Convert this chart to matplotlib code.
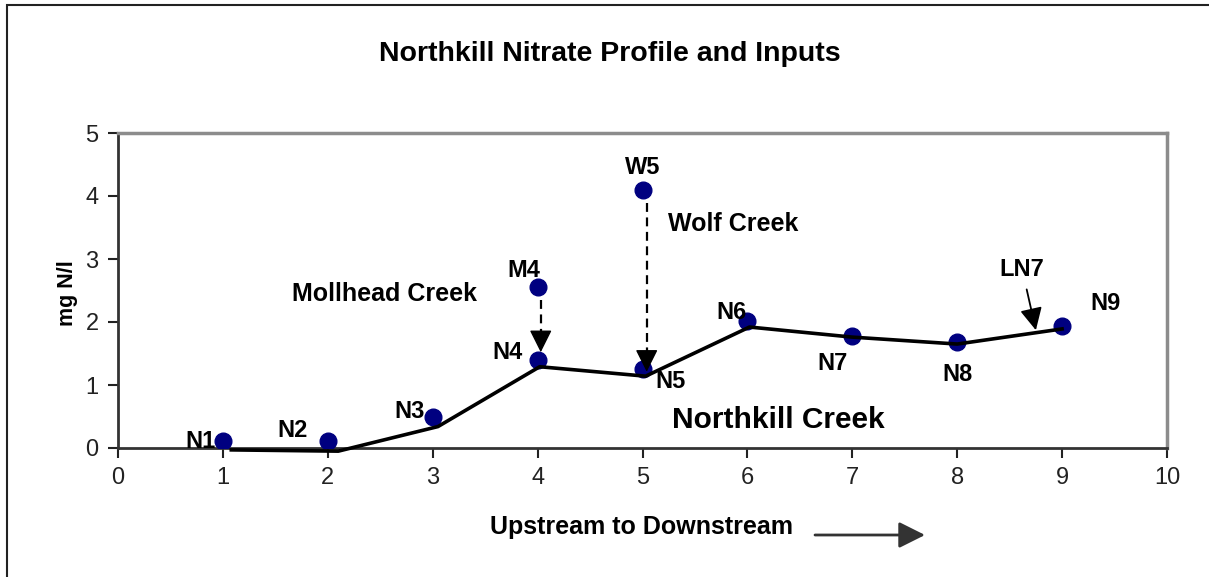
import matplotlib.pyplot as plt
from matplotlib.patches import Rectangle

plt.rcParams['font.family'] = ['Liberation Sans', 'DejaVu Sans']

# sampling sites along Northkill Creek
site_x = [1, 2, 3, 4, 5, 6, 7, 8, 9]
site_names = ["N1", "N2", "N3", "N4", "N5", "N6", "N7", "N8", "N9"]
site_no3 = [0.11, 0.11, 0.49, 1.40, 1.25, 2.02, 1.78, 1.68, 1.94]

# tributary inputs
trib_names = ["M4", "W5"]
trib_x = [4, 5]
trib_no3 = [2.56, 4.10]

# profile line
prof_x = [1.08, 2.1, 3.05, 4.02, 5.03, 6.02, 7.0, 8.0, 9.0]
prof_y = [-0.03, -0.05, 0.34, 1.29, 1.14, 1.92, 1.76, 1.65, 1.89]

# label offsets (pixels) for each site / tributary
site_off = [(-22, 0), (-35, 11), (-23, 6), (-30, 7), (28, -12), (-16, 8), (-20, -28), (0, -32), (43, 22)]
trib_off = [(-14, 16), (0, 22)]

fig = plt.figure(figsize=(12.09, 5.77), dpi=100)
fig.patches.append(Rectangle((7 / 1209, -0.1), 1.2, 1 - 5 / 577 + 0.1, transform=fig.transFigure,
                             fill=False, edgecolor='#222222', lw=1.5))
ax = fig.add_axes([118 / 1209, 129 / 577, 1049 / 1209, 315 / 577])

ax.plot(site_x, site_no3, 'o', color='#000080', ms=12, zorder=3)
ax.plot(trib_x, trib_no3, 'o', color='#000080', ms=12, zorder=3)
ax.plot(prof_x, prof_y, color='black', lw=2.6, zorder=4, clip_on=False)

for name, x, y, off in zip(site_names, site_x, site_no3, site_off):
    ax.annotate(name, (x, y), xytext=off, textcoords='offset pixels', ha='center', va='center',
                fontsize=17, fontweight='bold')
for name, x, y, off in zip(trib_names, trib_x, trib_no3, trib_off):
    ax.annotate(name, (x, y), xytext=off, textcoords='offset pixels', ha='center', va='center',
                fontsize=17, fontweight='bold')

# tributary inflow arrows: dashed shaft + solid head
def inflow(x, y0, y1):
    ax.plot([x, x], [y0, y1 + 0.25], '--', color='black', lw=1.6, dashes=(4, 2.5), zorder=5)
    ax.annotate("", xy=(x, y1), xytext=(x, y1 + 0.32),
                arrowprops=dict(arrowstyle='-|>', color='black', lw=1, mutation_scale=35,
                                shrinkA=0, shrinkB=0), zorder=5)

inflow(4.03, 2.35, 1.52)
inflow(5.04, 3.89, 1.21)

ax.annotate("LN7", xy=(8.75, 1.87), xytext=(8.62, 2.83), ha='center', va='center',
            fontsize=17, fontweight='bold',
            arrowprops=dict(arrowstyle='-|>', color='black', lw=1.3,
                            mutation_scale=34, shrinkA=4, shrinkB=0), zorder=5)

ax.text(2.54, 2.44, "Mollhead Creek", ha='center', va='center', fontsize=18, fontweight='bold')
ax.text(5.86, 3.56, "Wolf Creek", ha='center', va='center', fontsize=18, fontweight='bold')
ax.text(6.29, 0.44, "Northkill Creek", ha='center', va='center', fontsize=21.5, fontweight='bold')

ax.set_xlim(0, 10)
ax.set_ylim(0, 5)
ax.set_xticks(range(0, 11))
ax.set_yticks(range(0, 6))
ax.tick_params(axis='both', direction='out', length=7, width=1.5, labelsize=17, pad=7, colors='#222222')

for s in ['left', 'bottom']:
    ax.spines[s].set_color('#333333')
    ax.spines[s].set_linewidth(2)
for s in ['top', 'right']:
    ax.spines[s].set_color('#8c8c8c')
    ax.spines[s].set_linewidth(2.5)

fig.text(610 / 1209, 1 - 54 / 577, "Northkill Nitrate Profile and Inputs", ha='center', va='center',
         fontsize=20.5, fontweight='bold')
fig.text(641 / 1209, 1 - 527 / 577, "Upstream to Downstream", ha='center', va='center',
         fontsize=18, fontweight='bold')
fig.text(67 / 1209, 1 - 293 / 577, "mg N/l", ha='center', va='center', rotation=90,
         fontsize=15.5, fontweight='bold')
ax.annotate("", xy=(925 / 1209, 1 - 535 / 577), xytext=(815 / 1209, 1 - 535 / 577),
            xycoords='figure fraction', textcoords='figure fraction',
            arrowprops=dict(arrowstyle='-|>', color='#333333', lw=2, mutation_scale=40,
                            shrinkA=0, shrinkB=0))

fig.savefig("out.png", dpi=100)
